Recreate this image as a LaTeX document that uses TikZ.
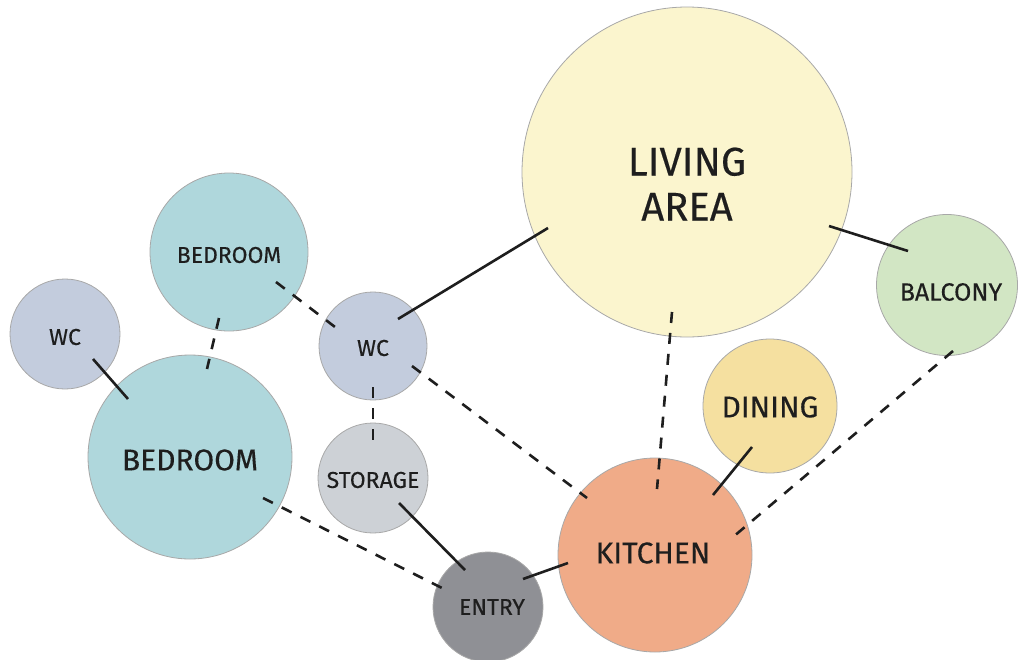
\documentclass[tikz,border=0pt]{standalone}
\usepackage{fontspec}
\setmainfont{Fira Sans}[FakeBold=0.3]
\usetikzlibrary{calc}
\definecolor{livingc}{HTML}{FBF5CE}
\definecolor{balconyc}{HTML}{D2E6C4}
\definecolor{diningc}{HTML}{F5E0A0}
\definecolor{kitchenc}{HTML}{F0AB88}
\definecolor{entryc}{HTML}{8F9095}
\definecolor{storagec}{HTML}{CDD1D6}
\definecolor{wcc}{HTML}{C3CCDD}
\definecolor{bedc}{HTML}{AFD7DC}
\definecolor{edgec}{HTML}{A8A8A8}
\definecolor{txtc}{HTML}{1E1E1E}
\definecolor{linec}{HTML}{1E1E1E}
\begin{document}
\begin{tikzpicture}[x=1pt,y=-1pt,
  room/.style={circle,draw=edgec,line width=0.8pt,inner sep=0pt,outer sep=0pt},
  lbl/.style={text=txtc,align=center,inner sep=0pt},
  big/.style={font=\fontsize{40}{45}\selectfont},
  mid/.style={font=\fontsize{30}{34}\selectfont},
  small/.style={font=\fontsize{23}{27}\selectfont},
  link/.style={line width=2.6pt,draw=linec},
  dlink/.style={link,dash pattern=on 11pt off 10pt}]
\useasboundingbox (0,0) rectangle (1019,659);
% rooms
\node[room,fill=livingc,minimum size=330pt] (living) at (687,172) {};
\node[room,fill=balconyc,minimum size=141pt] (balcony) at (947,285) {};
\node[room,fill=diningc,minimum size=134pt] (dining) at (770,406) {};
\node[room,fill=kitchenc,minimum size=194pt] (kitchen) at (655,555) {};
\node[room,fill=entryc,minimum size=110pt] (entry) at (488,607) {};
\node[room,fill=storagec,minimum size=110pt] (storage) at (373,478) {};
\node[room,fill=wcc,minimum size=108pt] (wc2) at (373,346) {};
\node[room,fill=bedc,minimum size=204pt] (bedL) at (190,457) {};
\node[room,fill=bedc,minimum size=158pt] (bedS) at (229,252) {};
\node[room,fill=wcc,minimum size=110pt] (wc1) at (65,334) {};
% labels
\node[lbl,big] (living-t) at (687,184) {LIVING\\AREA};
\node[lbl,font=\fontsize{25}{29}\selectfont] (balcony-t) at (951,292) {BALCONY};
\node[lbl,mid] (dining-t) at (770,407) {DINING};
\node[lbl,mid] (kitchen-t) at (653,553) {KITCHEN};
\node[lbl,small] (entry-t) at (492,607) {ENTRY};
\node[lbl,small] (storage-t) at (373,480) {STORAGE};
\node[lbl,small] (wc2-t) at (373,348) {WC};
\node[lbl,small] (wc1-t) at (65,337) {WC};
\node[lbl,mid] (bedL-t) at (190,460) {BEDROOM};
\node[lbl,small] (bedS-t) at (229,255) {BEDROOM};
% connectors
\draw[link]  ($(wc1)+(28,25)$) -- ($(bedL)+(-62,-58)$);
\draw[dlink] ($(bedS)+(-10,66)$) -- ($(bedL)+(17,-88)$);
\draw[dlink] ($(bedS)+(47,30)$) -- ($(wc2)+(-38,-19)$);
\draw[link]  ($(wc2)+(25,-27)$) -- ($(living)+(-139,56)$);
\draw[dlink] ($(wc2)+(0,41)$) -- ($(storage)+(0,-38)$);
\draw[dlink] ($(wc2)+(39,20)$) -- ($(kitchen)+(-68,-57)$);
\draw[link]  ($(storage)+(26,25)$) -- ($(entry)+(-23,-37)$);
\draw[dlink] ($(bedL)+(73,41)$) -- ($(entry)+(-42,-17)$);
\draw[link]  ($(entry)+(35,-28)$) -- ($(kitchen)+(-87,8)$);
\draw[dlink] ($(living)+(-15,140)$) -- ($(kitchen)+(2,-66)$);
\draw[link]  ($(dining)+(-18,41)$) -- ($(kitchen)+(58,-60)$);
\draw[dlink] ($(balcony)+(6,66)$) -- ($(kitchen)+(78,-18)$);
\draw[link]  ($(living)+(142,54)$) -- ($(balcony)+(-39,-34)$);
\end{tikzpicture}
\end{document}
